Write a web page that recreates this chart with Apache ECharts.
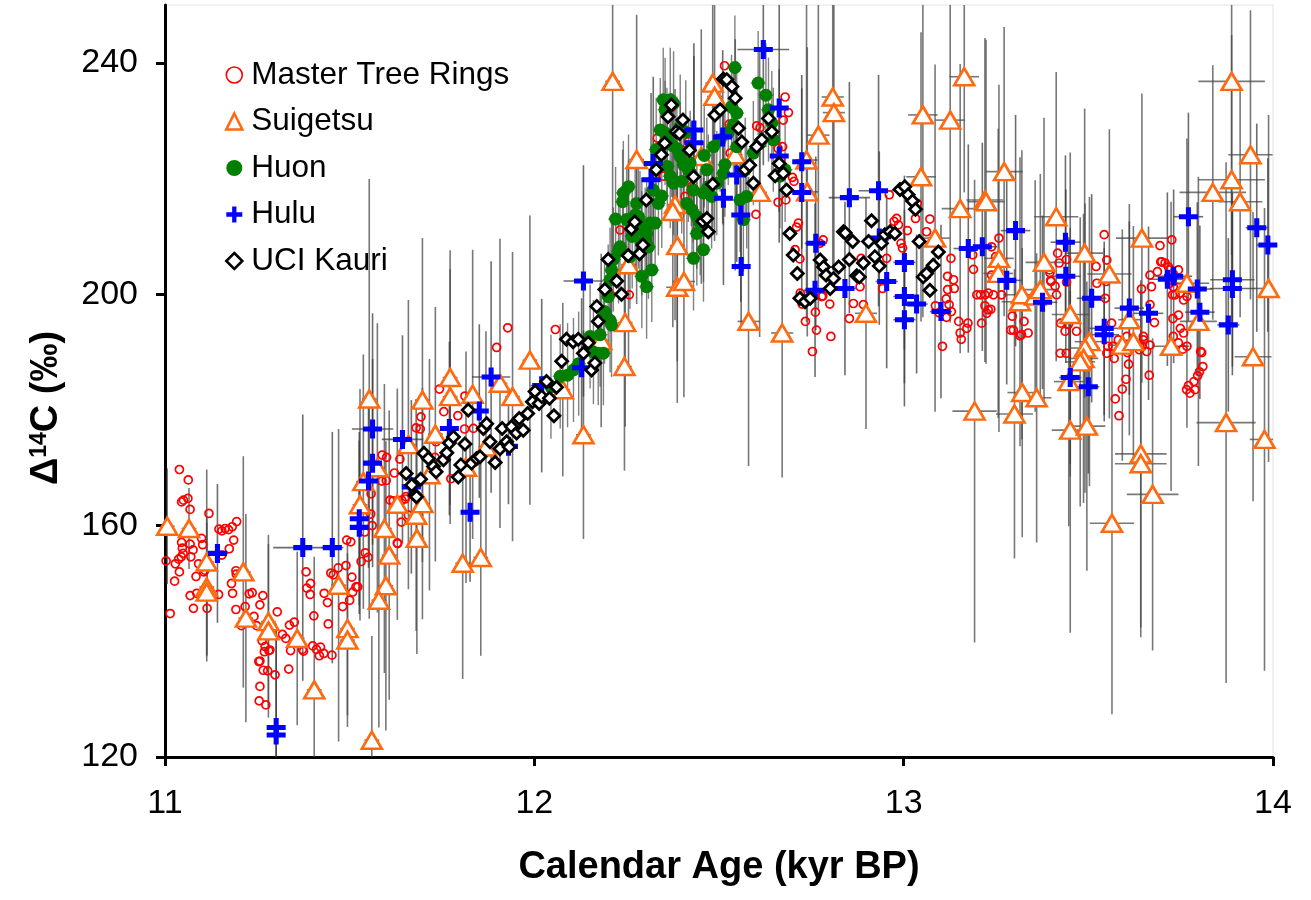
<!DOCTYPE html>
<html><head><meta charset="utf-8">
<script src="https://cdn.jsdelivr.net/npm/echarts@6/dist/echarts.min.js"></script>
<style>html,body{margin:0;padding:0;background:#fff}#c{width:1311px;height:900px}</style>
</head><body><div id="c"></div>
<script>
// ---------- DATA ----------
const seriesNames = ['Master Tree Rings','Suigetsu','Huon','Hulu','UCI Kauri'];
const xTicks = [11,12,13,14];
const yTicks = [120,160,200,240];

// Master Tree Rings: [age kyr BP, D14C permil]
const masterTreeRings = [
[11.039,169.7],[11.063,167.9],[11.045,164.1],[11.050,164.4],[11.062,164.7],[11.068,162.8],[11.119,162.1],
[11.045,157.1],[11.047,156.1],[11.049,155.2],[11.044,154.6],[11.003,153.9],[11.014,144.8],[11.026,150.4],
[11.028,153.4],[11.037,154.2],[11.039,152.0],[11.070,154.6],[11.076,155.8],[11.068,156.8],[11.084,151.2],
[11.091,153.4],[11.099,157.8],[11.102,156.7],[11.105,152.0],[11.108,152.3],[11.068,147.9],[11.077,145.7],
[11.086,148.3],[11.114,145.7],[11.145,148.1],[11.146,159.4],[11.154,159.1],[11.163,159.5],[11.172,159.3],
[11.182,159.8],[11.194,160.7],[11.154,154.9],[11.174,156.0],[11.186,157.5],[11.180,150.0],[11.183,148.3],
[11.192,152.2],[11.193,151.6],[11.201,151.2],[11.192,145.5],[11.207,142.7],[11.217,146.0],[11.228,148.2],
[11.236,148.4],[11.241,144.3],[11.248,142.7],[11.257,146.3],[11.265,147.9],[11.263,140.1],[11.257,136.6],
[11.254,136.5],[11.271,139.1],[11.269,138.2],[11.281,138.4],[11.284,138.5],[11.266,135.0],[11.278,134.9],
[11.257,132.2],[11.255,129.7],[11.273,129.0],[11.298,134.2],[11.304,145.1],[11.318,141.2],[11.327,140.5],
[11.337,142.8],[11.350,143.3],[11.340,138.4],[11.335,135.2],[11.372,138.6],[11.375,138.3],[11.382,152.0],
[11.384,149.2],[11.394,150.0],[11.393,148.1],[11.403,144.4],[11.400,139.2],[11.410,138.6],[11.421,139.0],
[11.418,137.5],[11.430,137.9],[11.452,137.6],[11.431,148.3],[11.440,146.7],[11.442,143.0],[11.449,151.8],
[11.456,151.5],[11.469,152.7],[11.490,153.1],[11.481,146.0],[11.500,147.1],[11.508,148.5],[11.517,149.4],
[11.522,149.4],[11.506,151.1],[11.492,157.5],[11.503,157.2],[11.531,153.8],[11.542,155.3],[11.550,154.5],
[11.541,158.9],[11.561,160.0],[11.557,162.0],[11.558,165.5],[11.588,172.2],[11.600,171.8],[11.636,171.5],
[11.599,167.8],[11.587,167.7],[11.609,164.4],[11.618,164.3],[11.621,169.1],[11.629,157.0],[11.640,160.6],
[11.652,165.0],[11.659,161.8],[11.630,156.9],[11.641,164.4],[11.650,164.6],[11.928,194.2],[11.898,190.8],
[12.057,193.9],[11.743,183.6],[11.755,179.7],[11.693,178.8],[11.680,176.9],[11.691,176.7],[11.793,179.0],
[11.811,176.7],[11.835,176.8],[11.734,174.5],[11.731,171.8],[11.774,168.1],[11.812,182.4],
[12.232,211.1],[12.207,199.9],[12.257,199.9],[12.333,227.0],[12.408,216.9],[12.426,218.6],[12.515,239.5],
[12.528,229.4],[12.530,224.4],[12.602,229.1],[12.611,228.8],[12.679,234.1],[12.688,231.4],[12.674,230.1],
[12.660,225.2],[12.672,225.5],[12.667,223.2],[12.660,215.9],[12.681,216.3],[12.600,213.8],[12.699,220.2],
[12.703,219.5],[12.715,212.3],[12.710,211.6],[12.706,207.7],[12.719,206.1],[12.720,200.2],[12.725,198.3],
[12.734,195.3],[12.753,190.1],[12.764,193.8],[12.761,196.9],[12.800,198.3],[12.803,192.7],[12.781,199.7],
[12.778,199.6],[12.773,208.8],[12.782,209.4],[12.369,232.6],[12.372,232.3],[12.349,220.4],[12.399,225.0],
[12.417,226.4],[12.961,217.2],[12.981,213.1],[12.974,212.6],[12.986,212.0],[13.032,213.1],[13.071,213.0],
[13.010,211.0],[12.993,208.8],[12.997,208.0],[13.062,210.8],[13.037,215.7],[12.954,206.2],[12.943,201.0],
[12.885,206.2],[12.882,201.3],[12.891,198.2],[12.864,198.4],[12.853,195.8],[13.128,206.2],[13.119,203.1],
[13.119,200.8],[13.115,199.2],[13.135,202.5],[13.137,201.0],[13.123,198.2],[13.129,197.0],[13.086,198.0],
[13.096,196.8],[13.116,196.0],[13.105,191.0],[13.149,195.3],[13.153,193.3],[13.171,194.1],[13.174,195.0],
[13.156,192.2],[13.189,204.3],[13.187,206.8],[13.211,195.0],[13.198,199.9],[13.208,199.9],[13.220,199.9],
[13.229,200.2],[13.243,199.9],[13.265,199.9],[13.220,198.0],[13.229,197.3],[13.225,196.7],[13.236,197.4],
[13.258,209.7],[13.249,206.5],[13.238,208.2],[13.238,203.3],[13.294,196.2],[13.290,193.8],[13.297,193.8],
[13.326,195.3],[13.319,193.0],[13.337,193.3],[13.315,192.8],[13.315,198.6],[13.417,207.1],[13.421,205.4],
[13.441,206.0],[13.396,203.7],[13.399,202.2],[13.414,199.9],[13.410,201.4],[13.441,202.1],[13.468,193.6],
[13.446,194.8],[13.425,195.0],[13.437,193.6],[13.424,189.8],[13.440,189.8],[13.543,210.3],[13.521,204.8],
[13.523,201.9],[13.550,205.9],[13.548,202.2],[13.546,199.3],[13.563,195.0],[13.566,191.0],[13.550,189.8],
[13.581,192.1],[13.604,192.7],[13.640,191.0],[13.649,192.1],[13.658,190.1],[13.667,191.2],[13.665,186.0],
[13.694,208.4],[13.726,209.4],[13.696,205.6],[13.717,204.7],[13.721,204.2],[13.730,203.5],[13.744,204.2],
[13.746,202.5],[13.721,201.9],[13.730,201.3],[13.728,199.9],[13.735,199.9],[13.749,200.2],[13.758,199.0],
[13.767,199.6],[13.729,195.8],[13.744,196.4],[13.749,194.1],[13.758,193.3],[13.767,191.0],[13.756,190.5],
[13.730,192.7],[13.744,191.6],[13.804,190.1],[13.810,187.5],[13.801,186.6],[13.796,185.9],[13.807,189.9],
[13.786,184.9],[13.771,184.2],[13.766,183.5],[13.775,182.9],[13.789,183.5],[13.602,185.3],[13.592,183.6],
[13.573,181.9],[13.583,179.0],[13.609,187.9],[13.606,189.9],[13.570,188.9],[13.553,191.0],[13.667,203.3],
[13.687,203.9],[13.699,205.6],[13.708,205.4],[13.644,200.9],[13.671,201.3],[13.667,198.2],[13.679,195.1],
[13.649,192.7],[13.638,190.4],[13.646,191.0],[13.395,204.2],[13.398,202.4]
];

// Suigetsu: [age, D14C, age error, D14C error]
const suigetsu = [
[11.006,159.9,0.02,10],[11.065,159.5,0.02,7],[11.113,153.7,0.02,16],[11.113,149.4,0.02,12],[11.113,148.5,0.02,12],
[11.212,152.0,0.02,20],[11.219,144.0,0.02,18],[11.280,143.4,0.02,15],[11.280,141.8,0.02,15],[11.358,140.5,0.02,15],
[11.404,131.6,0.02,23],[11.470,149.7,0.02,27],[11.494,142.2,0.02,15],[11.494,140.2,0.02,15],[11.560,122.9,0.02,18],
[11.528,163.6,0.02,20],[11.537,167.6,0.02,22],[11.553,181.9,0.02,38],[11.575,170.0,0.02,25],[11.594,159.5,0.02,25],
[11.607,154.9,0.02,25],[11.598,149.6,0.02,25],[11.579,147.1,0.02,22],[11.629,163.7,0.02,20],[11.680,161.8,0.02,20],
[11.682,157.8,0.02,20],[11.659,174.0,0.02,25],[11.697,181.7,0.02,28],[11.772,185.6,0.02,22],[11.772,182.3,0.02,22],
[11.732,175.8,0.02,22],[11.833,182.7,0.02,25],[11.907,184.6,0.02,25],[11.941,182.3,0.02,25],[11.988,188.6,0.02,25],
[11.869,173.6,0.02,20],[11.815,170.1,0.02,20],[11.806,153.5,0.02,20],[11.855,154.5,0.02,17],[11.716,168.8,0.02,20],
[11.697,163.8,0.02,20],[12.133,175.7,0.02,18],[12.077,183.5,0.02,15],[12.212,236.8,0.02,30],[12.277,223.3,0.02,25],
[12.381,215.5,0.02,20],[12.375,214.3,0.02,20],[12.387,208.4,0.02,20],[12.387,201.2,0.03,20],[12.405,202.2,0.03,20],
[12.255,205.1,0.02,18],[12.246,195.1,0.02,18],[12.244,187.5,0.02,18],[12.181,192.0,0.02,15],[12.452,223.8,0.02,22],
[12.483,236.5,0.02,25],[12.488,234.2,0.02,25],[12.544,224.1,0.02,20],[12.610,217.6,0.02,25],[12.580,195.3,0.03,25],
[12.671,193.3,0.03,25],[12.737,223.2,0.03,28],[12.739,217.7,0.03,25],[12.769,227.5,0.03,30],[12.808,234.1,0.03,30],
[12.811,231.4,0.03,30],[13.052,231.0,0.04,35],[13.126,230.1,0.04,35],[13.164,237.6,0.04,20],[13.047,220.3,0.04,25],
[12.898,196.7,0.03,20],[13.085,209.7,0.04,30],[13.153,214.8,0.05,25],[13.220,216.3,0.05,28],[13.223,216.0,0.05,28],
[13.272,221.2,0.05,25],[13.258,206.2,0.04,30],[13.256,203.6,0.04,25],[13.315,198.7,0.05,25],[13.320,199.9,0.05,25],
[13.356,199.7,0.05,20],[13.370,200.8,0.05,20],[13.380,205.5,0.05,25],[13.413,213.4,0.06,25],[13.451,196.5,0.05,28],
[13.490,207.1,0.05,25],[13.557,203.5,0.06,25],[13.645,209.7,0.07,25],[13.724,191.0,0.05,25],[13.767,201.9,0.06,25],
[13.798,195.3,0.05,25],[13.837,217.6,0.09,22],[13.888,236.8,0.09,30],[13.888,219.8,0.09,25],[13.939,224.1,0.06,25],
[13.911,216.0,0.06,20],[13.988,201.0,0.04,30],[13.946,189.2,0.05,25],[13.503,191.8,0.04,25],[13.491,190.7,0.04,25],
[13.487,188.9,0.04,25],[13.478,188.3,0.04,25],[13.592,191.2,0.04,20],[13.622,191.8,0.04,20],[13.611,195.6,0.03,20],
[13.192,179.8,0.06,40],[13.300,179.3,0.05,25],[13.321,183.0,0.04,25],[13.360,182.1,0.04,25],[13.451,176.5,0.05,35],
[13.496,177.2,0.05,25],[13.564,160.4,0.06,33],[13.642,172.4,0.07,30],[13.642,170.7,0.07,30],[13.674,165.4,0.07,27],
[13.873,177.8,0.08,45],[13.977,174.9,0.04,40],[13.447,184.9,0.04,25]
];

// Huon: [age, D14C]
const huon = [
[12.543,239.2],[12.606,236.5],[12.627,234.4],[12.634,231.9],[12.349,233.6],[12.368,233.6],[12.377,233.0],
[12.354,231.9],[12.341,228.4],[12.354,227.9],[12.359,226.7],[12.372,225.8],[12.386,225.2],[12.395,223.8],
[12.404,222.4],[12.417,221.5],[12.399,219.5],[12.377,219.2],[12.360,222.1],[12.368,220.4],[12.255,218.6],
[12.241,217.5],[12.239,216.0],[12.277,215.7],[12.273,213.7],[12.282,213.4],[12.286,212.3],[12.291,211.1],
[12.304,210.5],[12.313,212.3],[12.327,212.3],[12.336,215.7],[12.250,212.9],[12.232,208.2],[12.228,207.4],
[12.259,206.5],[12.291,208.8],[12.300,209.4],[12.309,208.2],[12.318,204.2],[12.291,203.1],[12.304,201.3],
[12.422,222.7],[12.425,220.8],[12.413,215.7],[12.427,214.6],[12.440,213.4],[12.449,212.3],[12.458,211.1],
[12.440,210.5],[12.458,207.7],[12.431,206.2],[12.467,221.5],[12.471,218.6],[12.458,217.5],[12.480,216.9],
[12.494,219.2],[12.512,220.9],[12.516,222.4],[12.485,225.5],[12.503,226.7],[12.525,227.9],[12.539,229.3],
[12.548,225.5],[12.571,221.5],[12.557,216.3],[12.575,216.9],[12.548,231.3],[12.534,232.4],[12.593,224.4],
[12.611,226.1],[12.643,229.6],[12.647,226.7],[12.665,220.4],[12.679,221.5],[12.566,212.9],[12.214,206.0],
[12.209,204.2],[12.205,202.5],[12.200,199.6],[12.205,195.5],[12.209,194.7],[12.178,193.0],[12.173,189.8],
[12.151,192.7],[12.187,189.8],[12.106,186.9],[12.070,185.8],[12.322,218.0],[12.330,225.0],[12.345,217.0],
[12.395,229.0],[12.410,228.0],[12.460,224.0],[12.430,218.0],[12.265,210.0],[12.220,213.0],[12.190,197.0],
[12.160,190.0],[12.120,188.0],[12.090,186.0],[12.045,184.0]
];
const huonError = [0.02, 9];

// Hulu: [age, D14C, age error, D14C error]
const hulu = [
[11.142,155.2,0.03,12],[11.373,156.2,0.08,23],[11.453,156.2,0.03,20],[11.301,125.1,0.02,18],[11.301,123.8,0.02,18],
[11.526,161.2,0.02,15],[11.526,159.7,0.02,15],[11.551,167.7,0.02,15],[11.562,170.8,0.02,18],[11.562,176.7,0.056,20],
[11.643,174.9,0.056,18],[11.667,166.7,0.02,15],[11.770,176.8,0.02,15],[11.851,179.8,0.02,15],[11.883,185.7,0.052,20],
[11.826,162.3,0.02,12],[11.930,173.7,0.02,10],[12.020,184.2,0.03,15],[12.128,187.3,0.03,12],[12.133,202.3,0.054,20],
[12.322,222.6,0.02,15],[12.316,219.8,0.02,15],[12.432,228.4,0.02,15],[12.432,226.2,0.02,15],[12.510,227.2,0.02,15],
[12.548,220.6,0.02,15],[12.512,216.6,0.02,15],[12.559,213.7,0.02,15],[12.560,204.8,0.02,10],[12.620,242.3,0.07,20],
[12.663,232.2,0.02,18],[12.663,223.9,0.02,15],[12.724,222.9,0.02,15],[12.724,217.6,0.02,18],[12.762,208.8,0.03,15],
[12.760,200.7,0.03,15],[12.853,216.7,0.056,20],[12.932,217.9,0.054,20],[12.934,209.7,0.03,15],[12.841,201.0,0.03,15],
[12.954,202.2,0.03,15],[13.002,205.5,0.03,15],[13.002,199.6,0.03,15],[13.002,195.6,0.03,15],[13.035,198.3,0.03,12],
[13.101,197.0,0.03,15],[13.175,207.9,0.04,18],[13.213,208.2,0.04,18],[13.303,211.0,0.04,20],[13.279,202.4,0.04,18],
[13.376,198.6,0.04,15],[13.438,209.0,0.04,15],[13.439,203.1,0.04,15],[13.509,199.3,0.04,18],[13.543,194.1,0.04,15],
[13.543,193.0,0.04,15],[13.611,197.6,0.04,15],[13.663,196.7,0.04,15],[13.714,202.6,0.05,15],[13.731,203.1,0.05,15],
[13.795,200.9,0.04,15],[13.802,196.9,0.04,15],[13.771,213.4,0.04,18],[13.890,202.5,0.06,15],[13.890,201.0,0.06,15],
[13.879,194.7,0.03,15],[13.956,211.5,0.03,18],[13.986,208.5,0.03,15],[13.451,185.6,0.03,15],[13.500,184.0,0.03,15]
];

// UCI Kauri: [age, D14C]
const uciKauri = [
[11.653,169.0],[11.668,167.0],[11.677,165.3],[11.681,165.0],[11.692,168.0],[11.701,172.5],[11.713,171.6],
[11.727,170.2],[11.734,169.3],[11.754,171.4],[11.763,172.6],[11.770,174.3],[11.781,175.3],[11.812,174.1],
[11.801,170.5],[11.794,168.4],[11.821,180.0],[11.830,170.8],[11.844,171.6],[11.853,171.9],[11.862,176.8],
[11.871,177.6],[11.880,174.5],[11.894,170.9],[11.907,173.3],[11.913,176.8],[11.925,174.5],[11.932,173.6],
[11.938,177.1],[11.952,176.0],[11.959,178.5],[11.970,176.5],[11.982,179.4],[11.995,181.4],[12.002,183.2],
[12.013,181.1],[12.020,182.3],[12.033,184.9],[12.041,182.0],[12.053,179.0],[12.060,183.9],[12.074,188.4],
[12.087,192.2],[12.105,191.8],[12.119,192.2],[12.133,189.8],[12.146,191.6],[12.155,186.9],[12.164,188.1],
[12.173,195.3],[12.169,197.9],[12.191,200.8],[12.200,206.0],[12.223,202.3],[12.236,200.0],[12.254,206.7],
[12.263,211.3],[12.272,212.5],[12.285,207.0],[12.294,208.5],[12.303,216.3],[12.330,221.5],[12.344,224.1],
[12.353,226.1],[12.362,230.7],[12.371,232.7],[12.384,228.1],[12.393,227.8],[12.402,230.1],[12.420,224.9],
[12.431,220.3],[12.483,219.0],[12.456,212.6],[12.467,213.1],[12.471,210.8],[12.489,231.0],[12.503,231.9],
[12.512,237.2],[12.521,237.1],[12.535,235.9],[12.544,233.9],[12.553,228.7],[12.562,226.3],[12.571,221.5],
[12.583,222.3],[12.593,219.2],[12.602,225.5],[12.616,226.7],[12.634,230.4],[12.643,228.1],[12.652,220.5],
[12.663,222.6],[12.674,220.9],[12.683,218.0],[12.692,210.5],[12.701,206.8],[12.712,203.6],[12.719,199.3],
[12.733,198.7],[12.747,199.3],[12.774,205.9],[12.783,204.7],[12.790,203.3],[12.810,202.7],[12.801,201.0],
[12.824,204.7],[12.837,210.8],[12.842,210.6],[12.853,206.0],[12.862,209.1],[12.873,203.2],[12.880,203.0],
[12.891,205.4],[12.905,209.1],[12.913,212.7],[12.922,206.5],[12.934,204.9],[12.940,208.8],[12.949,210.3],
[12.963,210.8],[12.976,210.5],[12.990,218.1],[13.003,218.6],[13.012,217.2],[13.024,216.1],[13.032,214.7],
[13.042,209.1],[13.053,203.0],[13.062,203.6],[13.080,205.0],[13.071,200.7],[13.094,207.3]
];

// ---------- CHART ----------
const FONT = '"Liberation Sans", Arial, Helvetica, sans-serif';
const PLUS = 'path://M0,3.3h3.3v-3.3h2.4v3.3h3.3v2.4h-3.3v3.3h-2.4v-3.3h-3.3z';
const huonRows = huon.map(p => [p[0], p[1], huonError[0], huonError[1]]);

function errRender(color, width) {
  return function (params, api) {
    const x = api.value(0), y = api.value(1), xe = api.value(2), ye = api.value(3);
    const l = api.coord([x - xe, y]), r = api.coord([x + xe, y]);
    const t = api.coord([x, y + ye]), b = api.coord([x, y - ye]);
    const style = { stroke: color, lineWidth: width };
    return { type: 'group', children: [
      { type: 'line', shape: { x1: l[0], y1: l[1], x2: r[0], y2: r[1] }, style: style },
      { type: 'line', shape: { x1: t[0], y1: t[1], x2: b[0], y2: b[1] }, style: style }
    ]};
  };
}

const chart = echarts.init(document.getElementById('c'), null, { renderer: 'canvas' });
chart.setOption({
  animation: false,
  backgroundColor: '#fff',
  textStyle: { fontFamily: FONT },
  grid: { left: 165, right: 38, top: 5, bottom: 143, show: true, borderColor: '#e2e2e2', borderWidth: 1 },
  legend: {
    orient: 'vertical', left: 220, top: 54, itemGap: 14.5, itemWidth: 16, itemHeight: 16,
    textStyle: { fontSize: 31.5, color: '#000', fontFamily: FONT, padding: [0, 0, 0, 4] },
    data: [
      { name: 'Master Tree Rings', icon: 'circle', itemStyle: { color: '#fff', borderColor: '#ff0000', borderWidth: 1.6 } },
      { name: 'Suigetsu', icon: 'triangle', itemStyle: { color: '#fff', borderColor: '#ff6a10', borderWidth: 2.6 } },
      { name: 'Huon', icon: 'circle', itemStyle: { color: '#007f00' } },
      { name: 'Hulu', icon: PLUS, itemStyle: { color: '#0000ff' } },
      { name: 'UCI Kauri', icon: 'diamond', itemStyle: { color: '#fff', borderColor: '#000', borderWidth: 2.6 } }
    ]
  },
  xAxis: {
    type: 'value', min: xTicks[0], max: xTicks[xTicks.length - 1], interval: 1,
    name: 'Calendar Age (kyr BP)', nameLocation: 'middle', nameGap: 92,
    nameTextStyle: { fontSize: 38, fontWeight: 'bold', color: '#000', fontFamily: FONT },
    axisLine: { onZero: false, lineStyle: { color: '#000', width: 3 } },
    axisTick: { show: true, length: 9, lineStyle: { color: '#000', width: 3 } },
    axisLabel: { fontSize: 34, color: '#000', margin: 30, fontFamily: FONT },
    splitLine: { show: false }
  },
  yAxis: {
    type: 'value', min: 120, max: 250, interval: 40,
    name: '{b|Δ}{s|14}{b|C (‰)}', nameLocation: 'middle', nameGap: 99, nameRotate: 90,
    nameTextStyle: {
      padding: [0, 54, 0, 0],
      rich: {
        b: { fontSize: 38, fontWeight: 'bold', color: '#000', fontFamily: FONT },
        s: { fontSize: 23, fontWeight: 'bold', color: '#000', fontFamily: FONT, verticalAlign: 'top', padding: [0, 0, 12, 0] }
      }
    },
    axisLine: { onZero: false, lineStyle: { color: '#000', width: 3 } },
    axisTick: { show: true, length: 9, lineStyle: { color: '#000', width: 3 }, customValues: yTicks },
    axisLabel: { fontSize: 34, color: '#000', margin: 27, fontFamily: FONT, customValues: yTicks },
    splitLine: { show: false }
  },
  series: [
    { type: 'custom', name: 'err-suigetsu', data: suigetsu, renderItem: errRender('rgba(75,75,75,0.75)', 1.6), clip: true, z: 1, silent: true, encode: { x: 0, y: 1 } },
    { type: 'custom', name: 'err-hulu', data: hulu, renderItem: errRender('rgba(60,60,60,0.75)', 1.6), clip: true, z: 1, silent: true, encode: { x: 0, y: 1 } },
    { type: 'custom', name: 'err-huon', data: huonRows, renderItem: errRender('rgba(75,75,75,0.7)', 1.4), clip: true, z: 1, silent: true, encode: { x: 0, y: 1 } },
    { type: 'scatter', name: 'Master Tree Rings', data: masterTreeRings, symbol: 'circle', symbolSize: 8,
      itemStyle: { color: 'rgba(255,255,255,0)', borderColor: '#ff0000', borderWidth: 1.7, opacity: 1 }, z: 2 },
    { type: 'scatter', name: 'Suigetsu', data: suigetsu, symbol: 'triangle', symbolSize: [20, 17],
      itemStyle: { color: '#fff', borderColor: '#ff6a10', borderWidth: 2.6, opacity: 1 }, z: 3 },
    { type: 'scatter', name: 'Huon', data: huon, symbol: 'circle', symbolSize: 13,
      itemStyle: { color: '#007f00', opacity: 1 }, z: 4 },
    { type: 'scatter', name: 'Hulu', data: hulu, symbol: PLUS, symbolSize: 19,
      itemStyle: { color: '#0000ff', opacity: 1 }, z: 5 },
    { type: 'scatter', name: 'UCI Kauri', data: uciKauri, symbol: 'diamond', symbolSize: 12,
      itemStyle: { color: '#fff', borderColor: '#000', borderWidth: 2.8, opacity: 1 }, z: 6 }
  ]
});
</script></body></html>
